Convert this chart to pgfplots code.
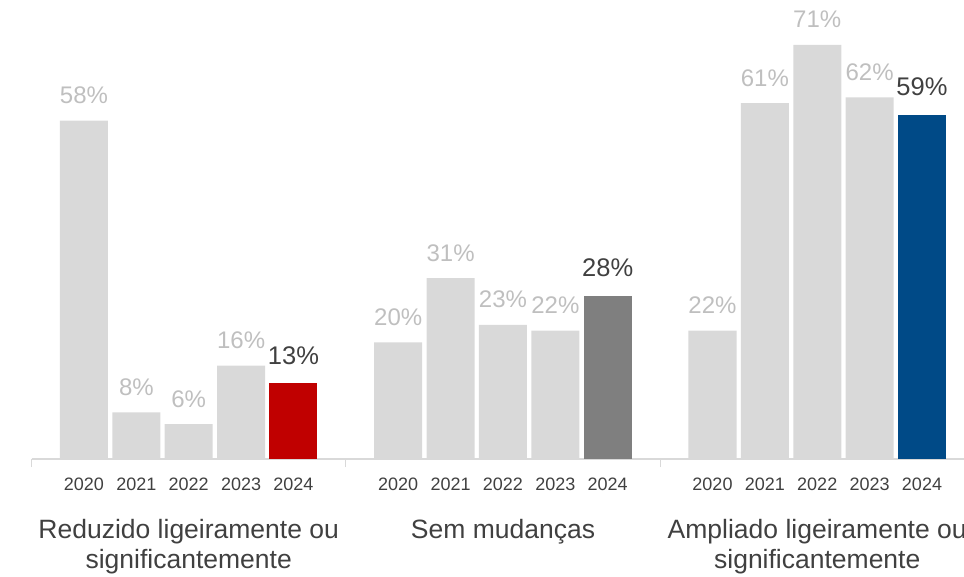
\documentclass[border=0pt]{standalone}
\usepackage{pgfplots}
\pgfplotsset{compat=1.18}
\usepackage{fontspec}
\setmainfont{Liberation Sans}
\definecolor{barlight}{HTML}{D9D9D9}
\definecolor{lblgray}{HTML}{BFBFBF}
\definecolor{txt}{HTML}{404040}
\definecolor{barred}{HTML}{C00000}
\definecolor{bardark}{HTML}{7F7F7F}
\definecolor{barblue}{HTML}{004A87}
\begin{document}
\begin{tikzpicture}
\begin{axis}[
  at={(31.6pt,117pt)}, anchor=south west,
  scale only axis, width=932.3pt, height=459pt,
  xmin=-1, xmax=16.8, ymin=0, ymax=78.7,
  axis x line=bottom, axis y line=none,
  axis line style={draw=barlight, line width=1.2pt, -},
  xtick={-1,5,11}, xticklabels={},
  tick style={draw=barlight, line width=1.2pt},
  major tick length=8pt, tick align=outside,
  extra x ticks={0,1,2,3,4,6,7,8,9,10,12,13,14,15,16},
  extra x tick labels={2020,2021,2022,2023,2024,2020,2021,2022,2023,2024,2020,2021,2022,2023,2024},
  extra x tick style={major tick length=0pt, tick label style={anchor=base, yshift=-31pt, font=\fontsize{18}{21}\selectfont, text=txt}},
  /pgf/number format/assume math mode=true,
  ybar, bar width=48pt, bar shift=0pt,
  nodes near coords={\pgfmathprintnumber[assume math mode=true]{\pgfplotspointmeta}\%},
  every node near coord/.append style={anchor=base, yshift=17pt, inner sep=0pt},
  clip=false,
]
\addplot[fill=barlight, draw=none, nodes near coords style={text=lblgray, font=\fontsize{24}{28}\selectfont}] coordinates {
  (0,58) (1,8) (2,6) (3,16)
  (6,20) (7,31) (8,23) (9,22)
  (12,22) (13,61) (14,71) (15,62)};
\addplot[fill=barred, draw=none, nodes near coords style={text=txt, font=\fontsize{25.5}{29}\selectfont, yshift=2pt}] coordinates {(4,13)};
\addplot[fill=bardark, draw=none, nodes near coords style={text=txt, font=\fontsize{25.5}{29}\selectfont, yshift=2pt}] coordinates {(10,28)};
\addplot[fill=barblue, draw=none, nodes near coords style={text=txt, font=\fontsize{25.5}{29}\selectfont, yshift=2pt}] coordinates {(16,59)};
\begin{scope}[every node/.style={anchor=base, inner sep=0pt, text=txt, font=\fontsize{26.5}{30}\selectfont}]
\node at (axis cs:2,0) [yshift=-79pt] {Reduzido ligeiramente ou};
\node at (axis cs:2,0) [yshift=-109pt] {significantemente};
\node at (axis cs:8,0) [yshift=-79pt] {Sem mudanças};
\node at (axis cs:14,0) [yshift=-79pt] {Ampliado ligeiramente ou};
\node at (axis cs:14,0) [yshift=-109pt] {significantemente};
\end{scope}
\end{axis}
\pgfresetboundingbox
\path[use as bounding box] (0,0) rectangle (964pt,576pt);
\end{tikzpicture}
\end{document}
